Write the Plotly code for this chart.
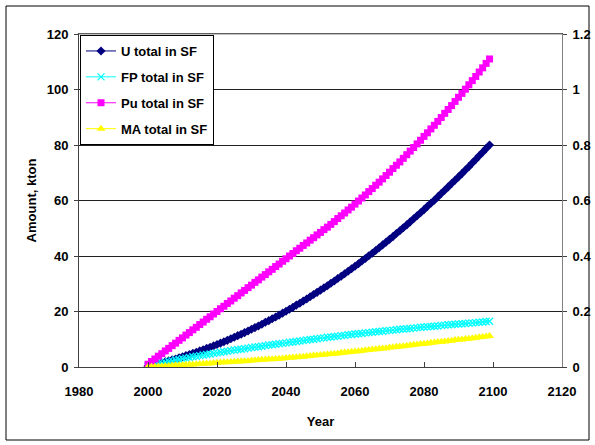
import plotly.graph_objects as go

years = list(range(2000, 2100))

u_total = [0.3, 0.6, 0.9, 1.2, 1.5, 1.9, 2.2, 2.6, 2.9, 3.3,
           3.7, 4.1, 4.5, 4.9, 5.3, 5.8, 6.2, 6.7, 7.1, 7.6,
           8.1, 8.6, 9.1, 9.6, 10.2, 10.7, 11.3, 11.8, 12.4, 13.0,
           13.6, 14.2, 14.8, 15.4, 16.1, 16.7, 17.4, 18.0, 18.7, 19.4,
           20.1, 20.8, 21.5, 22.3, 23.0, 23.8, 24.5, 25.3, 26.1, 26.9,
           27.7, 28.5, 29.3, 30.2, 31.0, 31.9, 32.7, 33.6, 34.5, 35.4,
           36.3, 37.2, 38.2, 39.1, 40.1, 41.0, 42.0, 43.0, 44.0, 45.0,
           46.0, 47.0, 48.1, 49.1, 50.2, 51.2, 52.3, 53.4, 54.5, 55.6,
           56.7, 57.9, 59.0, 60.1, 61.3, 62.5, 63.7, 64.9, 66.1, 67.3,
           68.5, 69.7, 71.0, 72.2, 73.5, 74.8, 76.1, 77.4, 78.7, 80.0]

fp_total = [0.3, 0.6, 0.9, 1.2, 1.4, 1.7, 2.0, 2.2, 2.5, 2.7,
            3.0, 3.2, 3.4, 3.7, 3.9, 4.1, 4.3, 4.5, 4.7, 4.9,
            5.1, 5.3, 5.5, 5.7, 5.9, 6.1, 6.3, 6.4, 6.6, 6.8,
            7.0, 7.2, 7.3, 7.5, 7.7, 7.9, 8.0, 8.2, 8.4, 8.5,
            8.7, 8.9, 9.0, 9.2, 9.4, 9.5, 9.7, 9.9, 10.0, 10.2,
            10.4, 10.5, 10.7, 10.8, 11.0, 11.1, 11.3, 11.4, 11.6, 11.7,
            11.9, 12.0, 12.1, 12.3, 12.4, 12.5, 12.7, 12.8, 12.9, 13.1,
            13.2, 13.3, 13.4, 13.6, 13.7, 13.8, 13.9, 14.0, 14.2, 14.3,
            14.4, 14.5, 14.6, 14.7, 14.8, 15.0, 15.1, 15.2, 15.3, 15.4,
            15.5, 15.6, 15.7, 15.8, 15.9, 16.0, 16.1, 16.2, 16.4, 16.5]

# Pu and MA are plotted against the secondary (right) axis
pu_total = [0.010, 0.020, 0.029, 0.039, 0.048, 0.058, 0.067, 0.077, 0.086, 0.096,
            0.105, 0.115, 0.124, 0.134, 0.143, 0.153, 0.162, 0.172, 0.181, 0.191,
            0.200, 0.210, 0.219, 0.229, 0.238, 0.248, 0.257, 0.267, 0.276, 0.286,
            0.295, 0.305, 0.314, 0.324, 0.333, 0.343, 0.352, 0.362, 0.371, 0.381,
            0.390, 0.400, 0.409, 0.419, 0.428, 0.438, 0.447, 0.457, 0.466, 0.476,
            0.485, 0.495, 0.504, 0.514, 0.524, 0.535, 0.545, 0.555, 0.566, 0.576,
            0.587, 0.598, 0.609, 0.620, 0.632, 0.643, 0.655, 0.666, 0.678, 0.690,
            0.702, 0.715, 0.727, 0.739, 0.752, 0.765, 0.778, 0.791, 0.804, 0.817,
            0.831, 0.844, 0.858, 0.871, 0.885, 0.899, 0.914, 0.928, 0.942, 0.957,
            0.972, 0.986, 1.001, 1.017, 1.032, 1.047, 1.063, 1.078, 1.094, 1.110]

ma_total = [0.000, 0.001, 0.001, 0.002, 0.003, 0.004, 0.004, 0.005, 0.006, 0.006,
            0.007, 0.008, 0.009, 0.009, 0.010, 0.011, 0.012, 0.013, 0.013, 0.014,
            0.015, 0.016, 0.017, 0.017, 0.018, 0.019, 0.020, 0.021, 0.021, 0.022,
            0.023, 0.024, 0.025, 0.026, 0.027, 0.028, 0.028, 0.029, 0.030, 0.031,
            0.032, 0.033, 0.034, 0.035, 0.036, 0.037, 0.039, 0.040, 0.041, 0.042,
            0.043, 0.044, 0.046, 0.047, 0.048, 0.049, 0.051, 0.052, 0.053, 0.055,
            0.056, 0.057, 0.059, 0.060, 0.061, 0.063, 0.064, 0.066, 0.067, 0.068,
            0.070, 0.071, 0.073, 0.074, 0.075, 0.077, 0.078, 0.080, 0.081, 0.083,
            0.084, 0.085, 0.087, 0.088, 0.090, 0.091, 0.092, 0.094, 0.095, 0.097,
            0.098, 0.099, 0.101, 0.102, 0.104, 0.105, 0.107, 0.108, 0.110, 0.112]

x_ticks = [1980, 2000, 2020, 2040, 2060, 2080, 2100, 2120]
y_left_ticks = [0, 20, 40, 60, 80, 100, 120]
y_right_ticks = [0, 0.2, 0.4, 0.6, 0.8, 1.0, 1.2]
y_right_labels = ["0", "0.2", "0.4", "0.6", "0.8", "1", "1.2"]

FONT = "Liberation Sans, Arial, sans-serif"

fig = go.Figure()
fig.add_trace(go.Scatter(x=years, y=u_total, name="<b>U total in SF</b>", mode="lines+markers",
                         line=dict(color="#000080", width=1),
                         marker=dict(symbol="diamond", size=7, color="#000080"),
                         legendgroup="u", yaxis="y"))
fig.add_trace(go.Scatter(x=years, y=fp_total, name="<b>FP total in SF</b>", mode="lines+markers",
                         line=dict(color="#00FFFF", width=1),
                         marker=dict(symbol="x-thin", size=7, color="#00FFFF",
                                     line=dict(color="#00FFFF", width=1.3)),
                         legendgroup="fp", yaxis="y"))
fig.add_trace(go.Scatter(x=years, y=pu_total, name="<b>Pu total in SF</b>", mode="lines+markers",
                         line=dict(color="#FF00FF", width=1),
                         marker=dict(symbol="square", size=7, color="#FF00FF"),
                         legendgroup="pu", yaxis="y2"))
fig.add_trace(go.Scatter(x=years, y=ma_total, name="<b>MA total in SF</b>", mode="lines+markers",
                         line=dict(color="#FFFF00", width=1),
                         marker=dict(symbol="triangle-up", size=8, color="#FFFF00"),
                         legendgroup="ma", yaxis="y2"))

L, R, T, B = 79, 33, 34, 78
W, H = 595, 445
pw, ph = W - L - R, H - T - B


def px_x(p):
    return (p - L) / pw


def px_y(p):
    return (H - B - p) / ph


fig.update_layout(
    width=W, height=H,
    margin=dict(l=L, r=R, t=T, b=B, autoexpand=False),
    paper_bgcolor="white", plot_bgcolor="white",
    font=dict(family=FONT, size=13, color="black"),
    showlegend=True,
    legend=dict(x=px_x(80), y=px_y(35), xanchor="left", yanchor="top",
                bgcolor="white", bordercolor="black", borderwidth=1,
                font=dict(family=FONT, size=13, color="black"),
                traceorder="grouped", tracegroupgap=6,
                itemwidth=30),
    xaxis=dict(range=[1980, 2120], tickvals=x_ticks, ticktext=[f"<b>{v}</b>" for v in x_ticks],
               ticks="inside", ticklen=5, tickcolor="#404040",
               showline=True, linecolor="#404040", linewidth=1, mirror=True,
               showgrid=False, zeroline=False, ticklabelstandoff=12,
               title=dict(text="<b>Year</b>", standoff=19, font=dict(size=13))),
    yaxis=dict(range=[0, 120], tickvals=y_left_ticks, ticktext=[f"<b>{v}</b>" for v in y_left_ticks],
               ticks="outside", ticklen=4, tickcolor="#404040",
               showline=True, linecolor="#404040", linewidth=1,
               showgrid=True, gridcolor="#202020", gridwidth=1, zeroline=False,
               ticklabelstandoff=3,
               title=dict(text="<b>Amount, kton</b>", standoff=7, font=dict(size=13))),
    yaxis2=dict(range=[0, 1.2], tickvals=y_right_ticks, ticktext=[f"<b>{t}</b>" for t in y_right_labels],
                overlaying="y", side="right", ticks="outside", ticklen=4, tickcolor="#404040",
                showline=True, linecolor="#808080", linewidth=1,
                showgrid=False, zeroline=False, ticklabelstandoff=3),
    shapes=[dict(type="line", xref="paper", yref="paper", x0=0, x1=1, y0=1, y1=1,
                 line=dict(color="#808080", width=1)),
            dict(type="rect", xref="paper", yref="paper",
                 x0=px_x(6), x1=px_x(589), y0=px_y(440), y1=px_y(6),
                 line=dict(color="black", width=1), layer="below")],
)

fig.write_html("out.html",
               config={"displayModeBar": False},
               post_script="document.body.style.margin='0';document.body.style.padding='0';")
